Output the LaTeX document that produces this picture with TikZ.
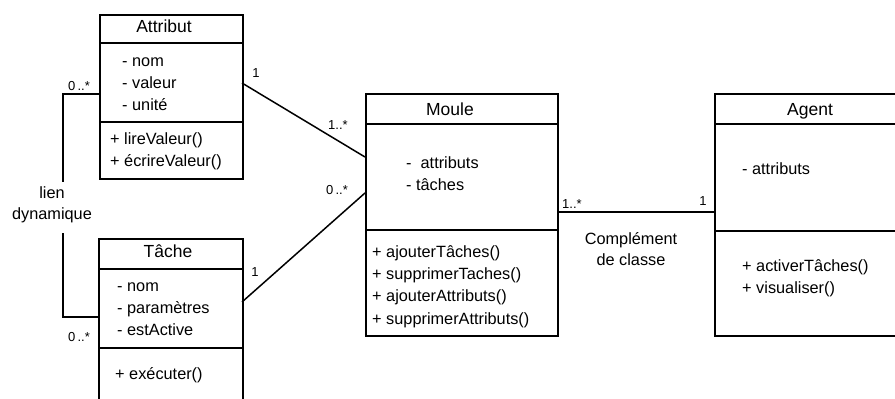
\documentclass[tikz,border=0pt]{standalone}
\usepackage{fontspec}
\setmainfont{Liberation Sans}
\begin{document}
\begin{tikzpicture}[x=1pt,y=-1pt,
  classbox/.style={draw, line width=1.6pt, rectangle, anchor=north west, inner sep=0pt},
  divider/.style={line width=1.6pt},
  conn/.style={line width=1.5pt},
  ctitle/.style={font=\fontsize{17.5}{20}\selectfont, inner sep=0pt, text height=12.5pt, text depth=3.5pt, anchor=center},
  item/.style={font=\fontsize{16.3}{19}\selectfont, inner sep=0pt, text height=12pt, text depth=3.5pt, anchor=west},
  mult/.style={font=\fontsize{13}{15}\selectfont, inner sep=0pt, anchor=center},
  lbl/.style={font=\fontsize{16.3}{19}\selectfont, inner sep=0pt, align=center, anchor=center}]
\useasboundingbox (0,0) rectangle (895,399);
\clip (0,0) rectangle (895,399);

% ---------- Attribut ----------
\node[classbox, minimum width=143pt, minimum height=164pt] (attr) at (99,14) {};
\draw[divider] (99,43) -- (242,43);
\draw[divider] (99,122) -- (242,122);
\node[ctitle] (attrT) at (164,28) {Attribut};
\node[item] (attr1) at (122,62) {- nom};
\node[item] (attr2) at (122,84) {- valeur};
\node[item] (attr3) at (122,106) {- unité};
\node[item] (attr4) at (110,140) {+ lireValeur()};
\node[item] (attr5) at (110,162) {+ écrireValeur()};

% ---------- Tâche ----------
\node[classbox, minimum width=144pt, minimum height=190pt] (tache) at (98,238) {};
\draw[divider] (98,269) -- (242,269);
\draw[divider] (98,348) -- (242,348);
\node[ctitle] (tacheT) at (168,253) {Tâche};
\node[item] (tache1) at (117,287) {- nom};
\node[item] (tache2) at (117,309) {- paramètres};
\node[item] (tache3) at (117,331) {- estActive};
\node[item] (tache4) at (115,375) {+ exécuter()};

% ---------- Moule ----------
\node[classbox, minimum width=192pt, minimum height=242pt] (moule) at (365,93) {};
\draw[divider] (365,124) -- (557,124);
\draw[divider] (365,230) -- (557,230);
\node[ctitle] (mouleT) at (450,111) {Moule};
\node[item] (moule1) at (406,164) {-\ \ attributs};
\node[item] (moule2) at (406,186) {- tâches};
\node[item] (moule3) at (372,253) {+ ajouterTâches()};
\node[item] (moule4) at (372,275) {+ supprimerTaches()};
\node[item] (moule5) at (372,297) {+ ajouterAttributs()};
\node[item] (moule6) at (372,320) {+ supprimerAttributs()};

% ---------- Agent ----------
\node[classbox, minimum width=200pt, minimum height=242pt] (agent) at (714,93) {};
\draw[divider] (714,124) -- (914,124);
\draw[divider] (714,231) -- (914,231);
\node[ctitle] (agentT) at (810,111) {Agent};
\node[item] (agent1) at (742,170) {-\ attributs};
\node[item] (agent2) at (742,267) {+ activerTâches()};
\node[item] (agent3) at (742,289) {+ visualiser()};

% ---------- connection points ----------
\coordinate (attrR) at (242,83);
\coordinate (attrL) at (99,94);
\coordinate (tacheR) at (242,302);
\coordinate (tacheL) at (98,317);
\coordinate (mouleLa) at (365,157);
\coordinate (mouleLt) at (365,193);
\coordinate (mouleR) at (557,212);
\coordinate (agentL) at (714,212);
\coordinate (lienTop) at (63,182);
\coordinate (lienBot) at (63,233);

% ---------- connectors ----------
\draw[conn] (attrR) -- (mouleLa);
\draw[conn] (tacheR) -- (mouleLt);
\draw[conn] (mouleR) -- (agentL);
\draw[conn] (attrL) -| (lienTop);
\draw[conn] (lienBot) |- (tacheL);

% ---------- labels ----------
\node[lbl] (lien) at (52,205) {lien\\[2pt]dynamique};
\node[lbl] (compl) at (631,249) {Complément\\[2pt]de classe};

\node[mult] (m1) at (79,86) {0\,..*};
\node[mult] (m2) at (256,73) {1};
\node[mult] (m3) at (338,125) {1..*};
\node[mult] (m4) at (337,190) {0\,..*};
\node[mult] (m5) at (255,272) {1};
\node[mult] (m6) at (79,337) {0\,..*};
\node[mult] (m7) at (572,204) {1..*};
\node[mult] (m8) at (703,201) {1};
\end{tikzpicture}
\end{document}
